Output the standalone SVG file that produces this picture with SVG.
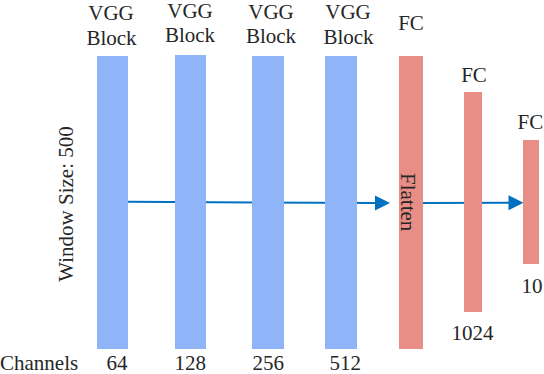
<svg xmlns="http://www.w3.org/2000/svg" width="544" height="374" viewBox="0 0 544 374">
<style>
text{font-family:"Liberation Serif","Times New Roman",serif;font-size:21px;fill:#262626}
.vgg{fill:#8FB4F8}
.fc{fill:#E98E86}
.m{text-anchor:middle}
.arr{stroke:#0070C0;stroke-width:2;fill:none}
.head{fill:#0070C0}
</style>
<rect width="544" height="374" fill="#fff"/>
<g id="connectors">
<line class="arr" x1="128" y1="201.8" x2="377" y2="203"/>
<polygon class="head" points="375,195.5 390,203 375,210.5"/>
<line class="arr" x1="423" y1="203" x2="510" y2="202.7"/>
<polygon class="head" points="508.5,195.2 523.5,202.7 508.5,210.2"/>
</g>
<g id="vgg1">
<rect class="vgg" x="97" y="56" width="31" height="293"/>
<text class="m" x="111" y="20">VGG</text>
<text class="m" x="111.5" y="45">Block</text>
<text x="106.5" y="370">64</text>
</g>
<g id="vgg2">
<rect class="vgg" x="175" y="55" width="31" height="294"/>
<text class="m" x="190" y="17.5">VGG</text>
<text class="m" x="190" y="42">Block</text>
<text x="174.5" y="370">128</text>
</g>
<g id="vgg3">
<rect class="vgg" x="252" y="56" width="32" height="293"/>
<text class="m" x="271" y="19">VGG</text>
<text class="m" x="271" y="43">Block</text>
<text x="252.5" y="370">256</text>
</g>
<g id="vgg4">
<rect class="vgg" x="325" y="56" width="32" height="293"/>
<text class="m" x="348" y="18.5">VGG</text>
<text class="m" x="348.5" y="43.5">Block</text>
<text x="329.5" y="370">512</text>
</g>
<g id="fc1">
<rect class="fc" x="399" y="56" width="24" height="293"/>
<text class="m" x="411" y="29.5">FC</text>
<text transform="translate(400.5,173) rotate(90)">Flatten</text>
</g>
<g id="fc2">
<rect class="fc" x="464" y="92" width="18" height="220"/>
<text class="m" x="474" y="82">FC</text>
<text class="m" x="472.5" y="340">1024</text>
</g>
<g id="fc3">
<rect class="fc" x="523" y="140" width="16" height="124"/>
<text x="517.5" y="129">FC</text>
<text x="521.5" y="293">10</text>
</g>
<g id="labels">
<text class="m" transform="translate(73,204) rotate(-90)">Window Size: 500</text>
<text x="0" y="370">Channels</text>
</g>
</svg>
